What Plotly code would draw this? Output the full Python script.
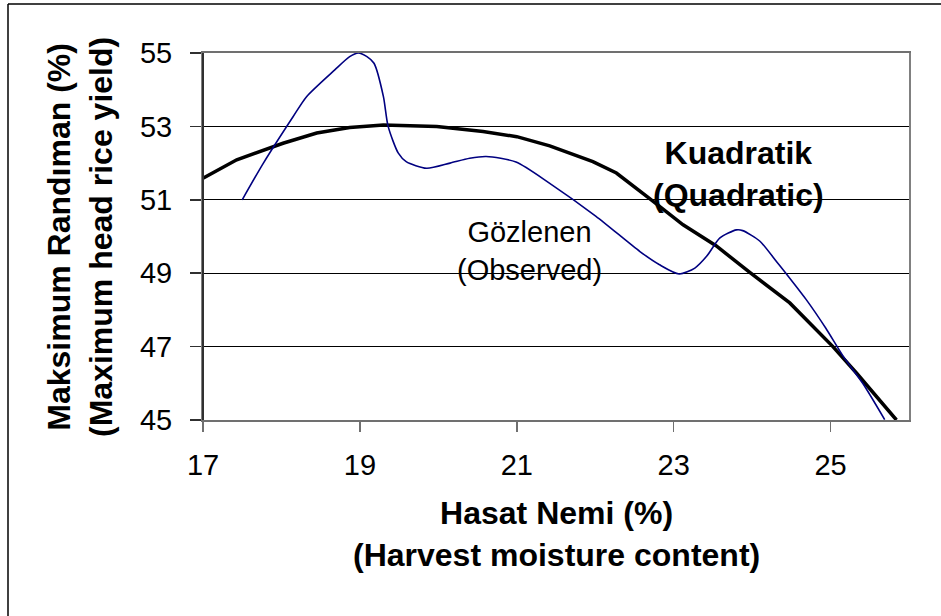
import plotly.graph_objects as go

# Observed (Gözlenen) series
obs_x = [17.5, 17.77, 18.15, 18.32, 18.68, 18.87, 18.98, 19.09, 19.18, 19.30, 19.36, 19.49,
         19.59, 19.85, 20.15, 20.40, 20.61, 20.99, 21.42, 22.01, 22.57, 22.82, 23.07, 23.27,
         23.42, 23.59, 23.80, 23.88, 24.10, 24.31, 24.43, 24.69, 24.94, 25.16, 25.41, 25.69]
obs_y = [51.0, 52.0, 53.27, 53.81, 54.54, 54.9, 55.0, 54.9, 54.72, 53.81, 53.0, 52.27,
         52.04, 51.86, 52.0, 52.13, 52.18, 52.03, 51.45, 50.55, 49.59, 49.23, 48.98, 49.14,
         49.46, 49.96, 50.18, 50.16, 49.87, 49.32, 49.0, 48.28, 47.5, 46.74, 46.0, 45.01]

# Quadratic (Kuadratik) fit series
quad_x = [17.0, 17.43, 18.02, 18.45, 18.87, 19.30, 19.98, 20.57, 21.0, 21.42, 21.97, 22.27,
          22.69, 23.12, 23.54, 23.97, 24.48, 25.03, 25.33, 25.84]
quad_y = [51.59, 52.09, 52.54, 52.82, 52.97, 53.04, 53.0, 52.86, 52.72, 52.47, 52.04, 51.73,
          51.04, 50.32, 49.75, 49.02, 48.19, 47.0, 46.28, 45.0]

x_ticks = [17, 19, 21, 23, 25]
y_ticks = [45, 47, 49, 51, 53, 55]

FONT = "Liberation Sans, Arial, sans-serif"

fig = go.Figure()
fig.add_trace(go.Scatter(x=quad_x, y=quad_y, mode="lines",
                         line=dict(color="black", width=3.5), hoverinfo="skip"))
fig.add_trace(go.Scatter(x=obs_x, y=obs_y, mode="lines",
                         line=dict(color="#000080", width=1.6, shape="spline", smoothing=0.7),
                         hoverinfo="skip"))

fig.update_layout(
    width=941, height=616,
    margin=dict(l=203, r=32, t=53, b=196),
    paper_bgcolor="white", plot_bgcolor="white",
    showlegend=False,
    font=dict(family=FONT, size=29, color="black"),
    xaxis=dict(range=[17, 26], tickvals=x_ticks, ticktext=[str(v) for v in x_ticks],
               showgrid=False, zeroline=False,
               showline=True, linecolor="#707070", linewidth=2, mirror=True,
               ticks="outside", ticklen=10, tickwidth=1.5, tickcolor="#707070",
               ticklabelstandoff=8,
               tickfont=dict(family=FONT, size=29, color="black")),
    yaxis=dict(range=[45, 55], tickvals=y_ticks, ticktext=[str(v) for v in y_ticks],
               showgrid=True, gridcolor="black", gridwidth=1, zeroline=False,
               showline=True, linecolor="#808080", linewidth=2, mirror=True,
               ticks="outside", ticklen=11, tickwidth=1.5, tickcolor="#303030",
               ticklabelstandoff=12,
               tickfont=dict(family=FONT, size=29, color="black")),
    shapes=[
        # left axis line darker
        dict(type="line", xref="paper", yref="paper", x0=0, x1=0, y0=0, y1=1,
             line=dict(color="#303030", width=2)),
        # outer figure frame (top and left)
        dict(type="line", xref="paper", yref="paper", x0=-0.2762, x1=1.06, y0=1.1335, y1=1.1335,
             line=dict(color="black", width=1.5)),
        dict(type="line", xref="paper", yref="paper", x0=-0.2762, x1=-0.2762, y0=-0.55, y1=1.1335,
             line=dict(color="black", width=1.5)),
    ],
    annotations=[
        dict(text="Gözlenen<br>(Observed)", x=21.16, y=49.6, xref="x", yref="y",
             showarrow=False, xanchor="center", yanchor="middle",
             font=dict(family=FONT, size=29, color="black")),
        dict(text="<b>Kuadratik</b><br><b>(Quadratic)</b>", x=23.83, y=51.7, xref="x", yref="y",
             showarrow=False, xanchor="center", yanchor="middle",
             font=dict(family=FONT, size=32, color="black")),
        dict(text="<b>Maksimum Randıman (%)</b><br><b>(Maximum head rice yield)</b>",
             x=-0.175, y=0.5, xref="paper", yref="paper", textangle=-90,
             showarrow=False, xanchor="center", yanchor="middle",
             font=dict(family=FONT, size=32, color="black")),
        dict(text="<b>Hasat Nemi (%)</b><br><b>(Harvest moisture content)</b>",
             x=0.5, y=-0.31, xref="paper", yref="paper",
             showarrow=False, xanchor="center", yanchor="middle",
             font=dict(family=FONT, size=32, color="black")),
    ],
)

fig.write_html(
    "out.html",
    config={"displayModeBar": False, "staticPlot": True},
    post_script="document.body.style.margin='0';document.body.style.overflow='hidden';",
)
